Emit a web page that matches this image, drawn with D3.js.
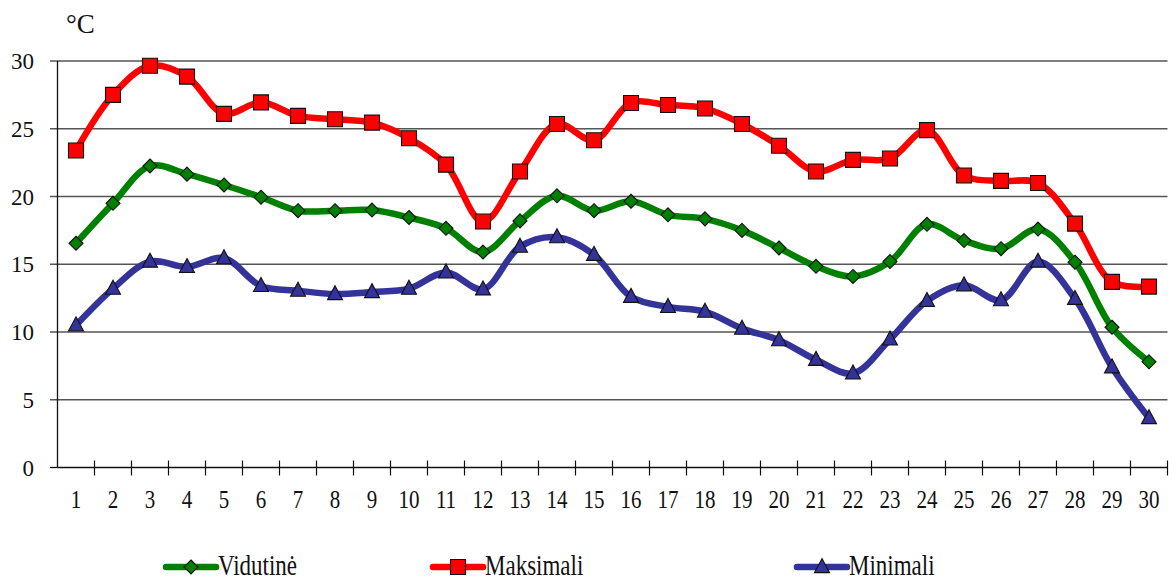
<!DOCTYPE html>
<html>
<head>
<meta charset="utf-8">
<script src="https://cdn.jsdelivr.net/npm/d3@7"></script>
<style>
  body { margin: 0; background: #fff; }
  svg text { font-family: "Liberation Serif", "Times New Roman", serif; fill: #111; }
</style>
</head>
<body>
<svg id="chart"></svg>
<script>
// Dienos (1..30)
const days = ["1","2","3","4","5","6","7","8","9","10","11","12","13","14","15",
              "16","17","18","19","20","21","22","23","24","25","26","27","28","29","30"];

// Temperaturos, °C
const vidutine = [16.55, 19.5, 22.25, 21.65, 20.85, 19.95, 18.95, 18.95, 19.0, 18.45,
                  17.65, 15.9, 18.2, 20.05, 18.95, 19.65, 18.65, 18.35, 17.5, 16.2,
                  14.85, 14.1, 15.2, 17.95, 16.75, 16.15, 17.6, 15.15, 10.35, 7.8];
const maksimali = [23.4, 27.5, 29.65, 28.85, 26.1, 26.95, 25.95, 25.7, 25.45, 24.3,
                   22.35, 18.15, 21.85, 25.35, 24.15, 26.9, 26.75, 26.5, 25.35, 23.75,
                   21.85, 22.7, 22.8, 24.9, 21.55, 21.15, 21.0, 18.0, 13.7, 13.35];
const minimali = [10.5, 13.2, 15.2, 14.8, 15.45, 13.4, 13.05, 12.8, 12.95, 13.2,
                  14.4, 13.15, 16.3, 17.0, 15.7, 12.6, 11.85, 11.5, 10.25, 9.4,
                  7.95, 6.95, 9.45, 12.3, 13.45, 12.35, 15.2, 12.45, 7.4, 3.65];

const yTicks = [0, 5, 10, 15, 20, 25, 30];

const seriesNames = ["Vidutinė", "Maksimali", "Minimali"];
const seriesColors = ["#008000", "#ff0000", "#333399"];
const seriesShapes = ["diamond", "square", "triangle"];

const width = 1176, height = 583;
const svg = d3.select("#chart").attr("width", width).attr("height", height);

const x = d3.scaleBand().domain(days).range([57.5, 1167.5]).padding(0);
const y = d3.scaleLinear().domain([0, 30]).range([467.5, 61]);

// Tinklelis
svg.append("g").selectAll("line")
    .data(yTicks.filter(t => t > 0))
    .enter().append("line")
    .attr("x1", 50).attr("x2", 1167.5)
    .attr("y1", d => y(d)).attr("y2", d => y(d))
    .attr("stroke", "#555").attr("stroke-width", 1.3);

// Y asis
svg.append("line")
    .attr("x1", 57.5).attr("x2", 57.5).attr("y1", y(30)).attr("y2", y(0))
    .attr("stroke", "#111").attr("stroke-width", 1.3);
svg.append("line")
    .attr("x1", 50).attr("x2", 57.5).attr("y1", y(0)).attr("y2", y(0))
    .attr("stroke", "#111").attr("stroke-width", 1.3);

svg.append("g").selectAll("text")
    .data(yTicks)
    .enter().append("text")
    .attr("x", 34)
    .attr("y", d => y(d))
    .attr("dy", "0.35em")
    .attr("text-anchor", "end")
    .attr("font-size", "23px")
    .text(d => d);

svg.append("text")
    .attr("x", 66).attr("y", 33)
    .attr("font-size", "27px")
    .text("°C");

// X asis
svg.append("line")
    .attr("x1", 57.5).attr("x2", 1167.5).attr("y1", y(0)).attr("y2", y(0))
    .attr("stroke", "#111").attr("stroke-width", 1.3);

const edges = days.map(d => x(d)).concat([x.range()[1]]);
svg.append("g").selectAll("line")
    .data(edges.slice(1))
    .enter().append("line")
    .attr("x1", d => d).attr("x2", d => d)
    .attr("y1", y(0) - 7).attr("y2", y(0) + 8)
    .attr("stroke", "#111").attr("stroke-width", 1.2);

svg.append("g").selectAll("text")
    .data(days)
    .enter().append("text")
    .attr("transform", d => `translate(${x(d) + x.bandwidth() / 2},508) scale(1,1.2)`)
    .attr("text-anchor", "middle")
    .attr("font-size", "21px")
    .text(d => d);

// Markeriai
function shapePath(kind, cx, cy) {
  if (kind === "square") {
    const s = 7.5;
    return `M${cx - s},${cy - s}H${cx + s}V${cy + s}H${cx - s}Z`;
  }
  if (kind === "diamond") {
    const s = 7;
    return `M${cx},${cy - s}L${cx + s},${cy}L${cx},${cy + s}L${cx - s},${cy}Z`;
  }
  const w = 7.5, h = 14;
  return `M${cx},${cy - h * 0.6}L${cx + w},${cy + h * 0.4}L${cx - w},${cy + h * 0.4}Z`;
}

const line = d3.line()
    .x((d, i) => x(days[i]) + x.bandwidth() / 2)
    .y(d => y(d))
    .curve(d3.curveCatmullRom.alpha(0.5));

const allSeries = [vidutine, maksimali, minimali];

allSeries.forEach((vals, si) => {
  svg.append("path")
      .datum(vals)
      .attr("d", line)
      .attr("fill", "none")
      .attr("stroke", seriesColors[si])
      .attr("stroke-width", 6.5)
      .attr("stroke-linejoin", "round")
      .attr("stroke-linecap", "round");
});

allSeries.forEach((vals, si) => {
  svg.append("g").selectAll("path")
      .data(vals)
      .enter().append("path")
      .attr("d", (d, i) => shapePath(seriesShapes[si], x(days[i]) + x.bandwidth() / 2, y(d)))
      .attr("fill", seriesColors[si])
      .attr("stroke", "#111")
      .attr("stroke-width", 1.1);
});

// Legenda
const legendX = [166, 433, 797];
const legend = svg.append("g").selectAll("g")
    .data(seriesNames)
    .enter().append("g");

legend.append("line")
    .attr("x1", (d, i) => legendX[i]).attr("x2", (d, i) => legendX[i] + 50)
    .attr("y1", 567).attr("y2", 567)
    .attr("stroke", (d, i) => seriesColors[i])
    .attr("stroke-width", 6.5)
    .attr("stroke-linecap", "round");

legend.append("path")
    .attr("d", (d, i) => shapePath(seriesShapes[i], legendX[i] + 25, 567))
    .attr("fill", (d, i) => seriesColors[i])
    .attr("stroke", "#111")
    .attr("stroke-width", 1.1);

legend.append("text")
    .attr("transform", (d, i) => `translate(${legendX[i] + 52},575) scale(1,1.25)`)
    .attr("font-size", "23px")
    .text(d => d);
</script>
</body>
</html>
